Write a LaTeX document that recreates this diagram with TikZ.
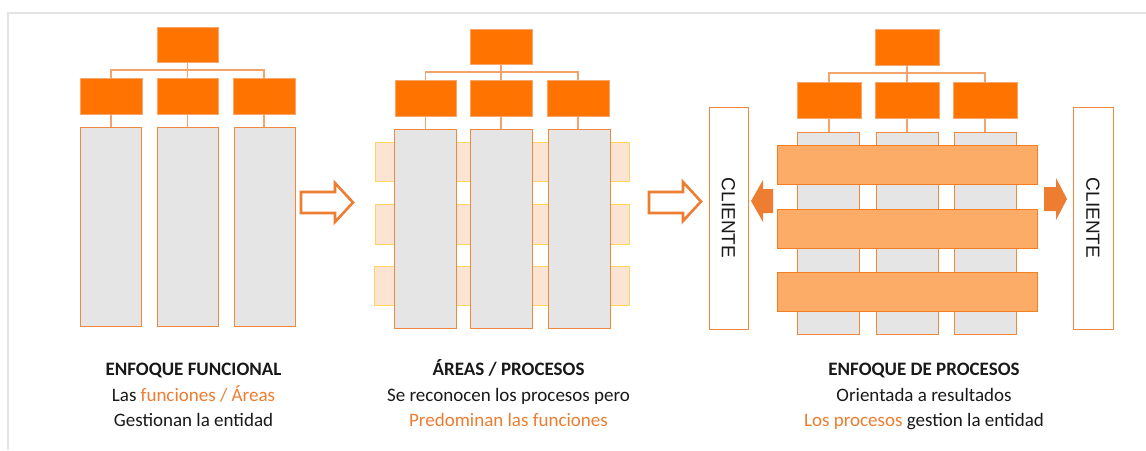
\documentclass[tikz,border=0pt]{standalone}
\usepackage{fontspec}
\setmainfont{Carlito}
\newfontfamily\clientefont{Liberation Sans}
\usetikzlibrary{fit}
\definecolor{orgfill}{HTML}{FF7300}
\definecolor{orgedge}{HTML}{F9A66C}
\definecolor{coledge}{HTML}{F0893F}
\definecolor{colfill}{HTML}{E5E5E5}
\definecolor{connc}{HTML}{F4A46A}
\definecolor{accent}{HTML}{ED7D31}
\definecolor{peach}{HTML}{FCE4D5}
\definecolor{peachedge}{HTML}{FFD45A}
\definecolor{barfill}{HTML}{FCAC66}
\definecolor{baredge}{HTML}{F47E22}
\definecolor{framec}{HTML}{E3E3E3}
\begin{document}
\begin{tikzpicture}[x=1pt,y=-1pt,
  obox/.style={draw=orgedge, fill=orgfill, line width=0.8pt, inner sep=0pt, outer sep=0pt},
  colbox/.style={draw=coledge, fill=colfill, line width=0.9pt, inner sep=0pt, outer sep=0pt},
  peachbox/.style={draw=peachedge, fill=peach, line width=0.9pt, inner sep=0pt, outer sep=0pt},
  barbox/.style={draw=baredge, fill=barfill, line width=0.9pt, inner sep=0pt, outer sep=0pt},
  clientbox/.style={draw=coledge, fill=white, line width=0.9pt, inner sep=0pt, outer sep=0pt},
  conn/.style={draw=connc, line width=1.1pt},
  hollowarrow/.style={draw=accent, fill=white, line width=2.6pt, line join=miter},
  solidarrow/.style={fill=accent, draw=none},
  captext/.style={font=\fontsize{19}{23}\selectfont, anchor=base, inner sep=0pt, text=black!90},
  clienttext/.style={rotate=-90, font=\clientefont\fontsize{19}{23}\selectfont, text=black!90},
]
\useasboundingbox (0,0) rectangle (1146,450);
\fill[white] (0,0) rectangle (1146,450);
% frame
\draw[framec, line width=1.5pt] (1146,13) -- (8,13) -- (8,450);

% ---------------- Panel 1 ----------------
\node[obox, fit={(157,27)(218,62)}] (T1) {};
\node[obox, fit={(80,78)(142,114)}] (A1a) {};
\node[obox, fit={(157,78)(218,114)}] (A1b) {};
\node[obox, fit={(233,78)(295,114)}] (A1c) {};
\node[colbox, fit={(80,127)(141,326)}] (C1a) {};
\node[colbox, fit={(157,127)(218,326)}] (C1b) {};
\node[colbox, fit={(234,127)(295,326)}] (C1c) {};
\coordinate (J1) at (187.5,70);
\draw[conn] (A1a.north) -- (A1a.north |- J1) -- (A1c.north |- J1) -- (A1c.north);
\draw[conn] (T1.south) -- (J1) -- (A1b.north);
\draw[conn] (A1a.south) -- (A1a.south |- C1a.north);
\draw[conn] (A1b.south) -- (A1b.south |- C1b.north);
\draw[conn] (A1c.south) -- (A1c.south |- C1c.north);

% hollow arrow 1
\draw[hollowarrow] (301,192) -- (335,192) -- (335,183) -- (353,202.5) -- (335,222) -- (335,213) -- (301,213) -- cycle;

% ---------------- Panel 2 ----------------
\node[obox, fit={(470,29)(532,64)}] (T2) {};
\node[obox, fit={(395,80)(456,116)}] (A2a) {};
\node[obox, fit={(470,80)(532,116)}] (A2b) {};
\node[obox, fit={(547,80)(609,116)}] (A2c) {};
\node[peachbox, fit={(375,142)(629,181)}] (P2a) {};
\node[peachbox, fit={(375,204)(629,244)}] (P2b) {};
\node[peachbox, fit={(374,266)(629,305)}] (P2c) {};
\node[colbox, fit={(394,129)(456,328)}] (C2a) {};
\node[colbox, fit={(470,129)(532,328)}] (C2b) {};
\node[colbox, fit={(548,129)(610,328)}] (C2c) {};
\coordinate (J2) at (501,72);
\draw[conn] (A2a.north) -- (A2a.north |- J2) -- (A2c.north |- J2) -- (A2c.north);
\draw[conn] (T2.south) -- (J2) -- (A2b.north);
\draw[conn] (A2a.south) -- (A2a.south |- C2a.north);
\draw[conn] (A2b.south) -- (A2b.south |- C2b.north);
\draw[conn] (A2c.south) -- (A2c.south |- C2c.north);

% hollow arrow 2
\draw[hollowarrow] (649,192) -- (683,192) -- (683,182) -- (701,201.5) -- (683,221) -- (683,213) -- (649,213) -- cycle;

% ---------------- Panel 3 ----------------
\node[obox, fit={(875,29)(939,65)}] (T3) {};
\node[obox, fit={(797,82)(861,118)}] (A3a) {};
\node[obox, fit={(875,82)(939,118)}] (A3b) {};
\node[obox, fit={(953,82)(1017,118)}] (A3c) {};
\node[colbox, fit={(797,132)(859,334)}] (C3a) {};
\node[colbox, fit={(876,132)(938,334)}] (C3b) {};
\node[colbox, fit={(954,132)(1016,334)}] (C3c) {};
\coordinate (J3) at (907,73);
\draw[conn] (A3a.north) -- (A3a.north |- J3) -- (A3c.north |- J3) -- (A3c.north);
\draw[conn] (T3.south) -- (J3) -- (A3b.north);
\draw[conn] (A3a.south) -- (A3a.south |- C3a.north);
\draw[conn] (A3b.south) -- (A3b.south |- C3b.north);
\draw[conn] (A3c.south) -- (A3c.south |- C3c.north);
\node[barbox, fit={(777,145)(1037,184)}] (B3a) {};
\node[barbox, fit={(777,209)(1037,248)}] (B3b) {};
\node[barbox, fit={(777,272)(1037,311)}] (B3c) {};

\node[clientbox, fit={(709,107)(748,329)}] (CL) {};
\node[clienttext] (CLt) at (CL.center) {CLIENTE};
\node[clientbox, fit={(1073,107)(1113,329)}] (CR) {};
\node[clienttext] (CRt) at (CR.center) {CLIENTE};

% solid arrows
\fill[solidarrow] (751,201) -- (763,180) -- (763,189) -- (773,189) -- (773,213) -- (763,213) -- (763,222) -- cycle;
\fill[solidarrow] (1067,199) -- (1056,178) -- (1056,187) -- (1044,187) -- (1044,211) -- (1056,211) -- (1056,220) -- cycle;

% ---------------- Captions ----------------
\node[captext] (h1) at (193.5,375) {\bfseries ENFOQUE FUNCIONAL};
\node[captext] (l1a) at (193.5,401) {Las \textcolor{accent}{funciones / Áreas}};
\node[captext] (l1b) at (193.5,426) {Gestionan la entidad};

\node[captext] (h2) at (508.5,375) {\bfseries ÁREAS / PROCESOS};
\node[captext] (l2a) at (508.5,401) {Se reconocen los procesos pero};
\node[captext, text=accent] (l2b) at (508.5,426) {Predominan las funciones};

\node[captext] (h3) at (924,375) {\bfseries ENFOQUE DE PROCESOS};
\node[captext] (l3a) at (924,401) {Orientada a resultados};
\node[captext] (l3b) at (924,426) {\textcolor{accent}{Los procesos} gestion la entidad};
\end{tikzpicture}
\end{document}
